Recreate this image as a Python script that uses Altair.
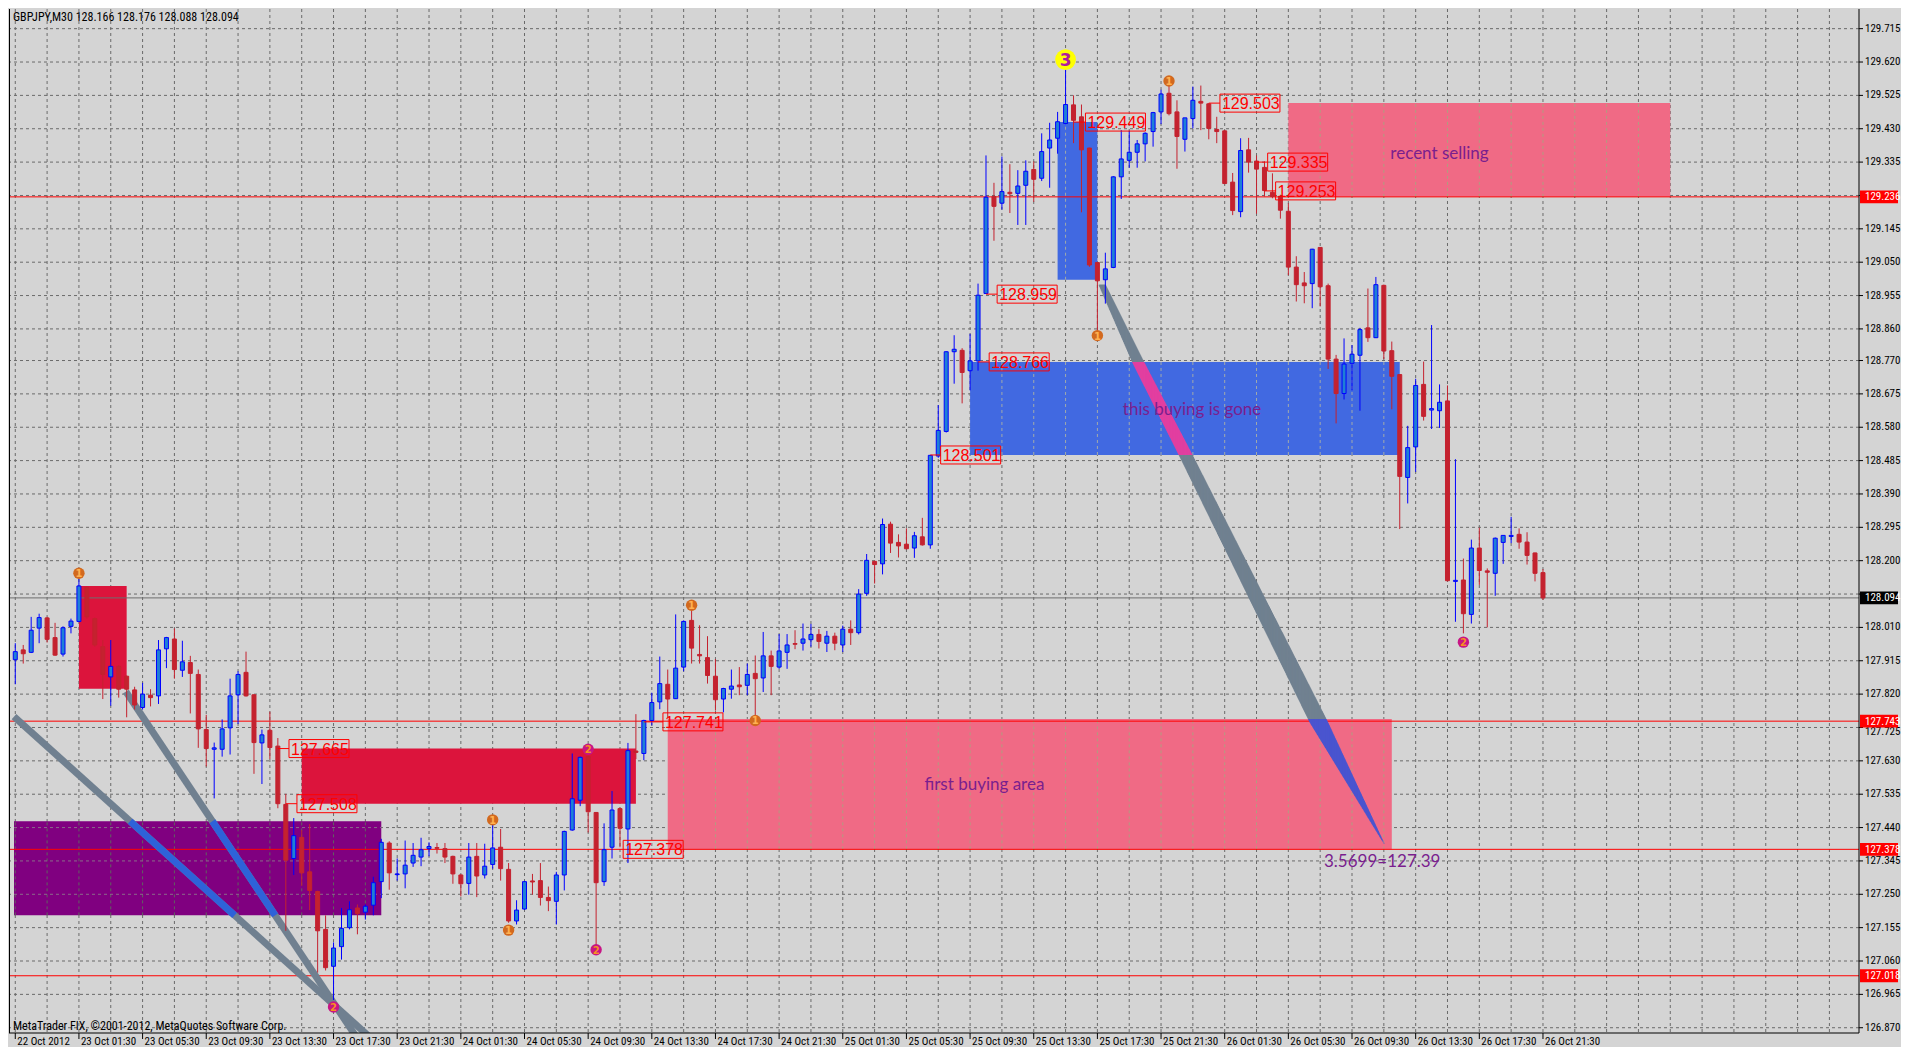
import altair as alt
import numpy as np
import pandas as pd

# ---------------- data ----------------
symbol = "GBPJPY,M30"
last_quote = [128.166, 128.176, 128.088, 128.094]

opens = [127.918, 127.946, 127.939, 128.008, 128.037, 127.981, 127.934, 128.013, 128.027, 128.124,
         128.035, 127.955, 127.869, 127.899, 127.871, 127.832, 127.782, 127.817, 127.815, 127.949,
         127.977, 127.888, 127.910, 127.876, 127.719, 127.663, 127.663, 127.724, 127.818, 127.882,
         127.818, 127.681, 127.717, 127.672, 127.506, 127.352, 127.412, 127.314, 127.258, 127.150,
         127.045, 127.101, 127.155, 127.211, 127.199, 127.219, 127.286, 127.396, 127.306, 127.308,
         127.339, 127.356, 127.380, 127.383, 127.380, 127.358, 127.305, 127.281, 127.358, 127.305,
         127.335, 127.384, 127.321, 127.174, 127.208, 127.288, 127.289, 127.241, 127.230, 127.305,
         127.433, 127.518, 127.642, 127.483, 127.286, 127.384, 127.494, 127.436, 127.658, 127.651,
         127.745, 127.798, 127.848, 127.807, 127.897, 128.030, 127.933, 127.924, 127.871, 127.806,
         127.834, 127.846, 127.845, 127.879, 127.866, 127.929, 127.897, 127.939, 127.964, 127.965,
         127.975, 127.990, 127.965, 127.985, 127.960, 128.005, 127.995, 128.107, 128.198, 128.191,
         128.304, 128.252, 128.247, 128.236, 128.268, 128.245, 128.498, 128.568, 128.795, 128.799,
         128.741, 128.769, 128.961, 129.237, 129.218, 129.249, 129.246, 129.269, 129.314, 129.289,
         129.375, 129.403, 129.445, 129.498, 129.464, 129.375, 129.049, 129.000, 129.035, 129.293,
         129.340, 129.363, 129.387, 129.422, 129.478, 129.531, 129.478, 129.400, 129.459, 129.508,
         129.501, 129.428, 129.424, 129.278, 129.194, 129.370, 129.338, 129.320, 129.249, 129.237,
         129.195, 129.036, 128.991, 128.989, 129.092, 128.983, 128.774, 128.676, 128.762, 128.785,
         128.863, 128.835, 128.984, 128.798, 128.730, 128.437, 128.524, 128.702, 128.629, 128.627,
         128.655, 128.141, 128.145, 128.047, 128.236, 128.171, 128.164, 128.252, 128.269, 128.275,
         128.253, 128.222, 128.166]
highs = [127.965, 127.960, 128.040, 128.049, 128.040, 128.023, 128.013, 128.035, 128.150, 128.126,
         128.038, 127.974, 127.974, 127.902, 127.873, 127.841, 127.852, 127.834, 127.974, 127.983,
         128.007, 127.972, 127.929, 127.890, 127.761, 127.682, 127.748, 127.864, 127.885, 127.941,
         127.820, 127.719, 127.770, 127.695, 127.536, 127.467, 127.433, 127.450, 127.260, 127.190,
         127.113, 127.211, 127.230, 127.221, 127.221, 127.300, 127.408, 127.401, 127.352, 127.403,
         127.396, 127.411, 127.398, 127.396, 127.396, 127.360, 127.307, 127.396, 127.396, 127.394,
         127.450, 127.436, 127.339, 127.233, 127.288, 127.308, 127.339, 127.272, 127.314, 127.431,
         127.651, 127.642, 127.644, 127.484, 127.452, 127.544, 127.497, 127.681, 127.763, 127.747,
         127.824, 127.927, 127.890, 128.047, 128.030, 128.060, 128.016, 127.985, 127.920, 127.838,
         127.890, 127.897, 127.907, 127.930, 127.997, 127.944, 127.991, 127.991, 128.002, 128.021,
         128.020, 128.005, 128.000, 127.995, 128.015, 128.030, 128.119, 128.219, 128.200, 128.320,
         128.311, 128.275, 128.292, 128.282, 128.322, 128.501, 128.643, 128.796, 128.842, 128.805,
         128.846, 128.989, 129.354, 129.276, 129.351, 129.329, 129.312, 129.340, 129.337, 129.417,
         129.447, 129.478, 129.600, 129.525, 129.499, 129.376, 129.050, 129.077, 129.295, 129.426,
         129.424, 129.398, 129.420, 129.478, 129.541, 129.557, 129.511, 129.461, 129.550, 129.553,
         129.503, 129.464, 129.426, 129.304, 129.403, 129.404, 129.354, 129.337, 129.303, 129.242,
         129.218, 129.067, 129.022, 129.088, 129.093, 128.989, 128.786, 128.833, 128.814, 128.863,
         128.975, 129.008, 128.986, 128.824, 128.731, 128.584, 128.718, 128.767, 128.871, 128.702,
         128.699, 128.489, 128.206, 128.260, 128.294, 128.178, 128.266, 128.273, 128.325, 128.292,
         128.281, 128.223, 128.176]
lows = [127.848, 127.907, 127.937, 127.965, 127.967, 127.929, 127.927, 127.993, 128.025, 128.035,
        127.955, 127.806, 127.787, 127.810, 127.754, 127.776, 127.776, 127.785, 127.792, 127.894,
        127.864, 127.869, 127.765, 127.667, 127.614, 127.523, 127.642, 127.648, 127.735, 127.813,
        127.593, 127.564, 127.635, 127.495, 127.146, 127.305, 127.274, 127.205, 127.027, 127.033,
        126.949, 127.064, 127.150, 127.136, 127.178, 127.190, 127.239, 127.263, 127.289, 127.267,
        127.328, 127.330, 127.358, 127.366, 127.339, 127.280, 127.244, 127.249, 127.242, 127.295,
        127.323, 127.289, 127.169, 127.164, 127.206, 127.249, 127.218, 127.202, 127.164, 127.261,
        127.431, 127.501, 127.426, 127.099, 127.274, 127.352, 127.384, 127.339, 127.635, 127.632,
        127.731, 127.777, 127.754, 127.806, 127.885, 127.907, 127.907, 127.850, 127.773, 127.768,
        127.807, 127.817, 127.817, 127.754, 127.826, 127.817, 127.892, 127.892, 127.948, 127.944,
        127.955, 127.950, 127.940, 127.945, 127.940, 127.960, 127.990, 128.100, 128.135, 128.161,
        128.222, 128.209, 128.232, 128.208, 128.243, 128.234, 128.493, 128.565, 128.704, 128.648,
        128.685, 128.741, 128.960, 129.111, 129.200, 129.190, 129.156, 129.156, 129.222, 129.281,
        129.262, 129.359, 129.443, 129.389, 129.192, 129.037, 128.830, 128.932, 129.033, 129.230,
        129.319, 129.319, 129.337, 129.379, 129.443, 129.468, 129.316, 129.365, 129.431, 129.426,
        129.400, 129.389, 129.272, 129.184, 129.178, 129.305, 129.188, 129.237, 129.232, 129.174,
        129.013, 128.938, 128.933, 128.919, 128.924, 128.746, 128.591, 128.659, 128.685, 128.627,
        128.823, 128.834, 128.774, 128.631, 128.290, 128.363, 128.453, 128.599, 128.575, 128.578,
        128.141, 128.026, 127.993, 128.021, 128.131, 128.010, 128.100, 128.191, 128.250, 128.234,
        128.189, 128.141, 128.088]
closes = [127.941, 127.935, 128.002, 128.038, 127.976, 127.931, 128.009, 128.028, 128.128, 128.040,
          127.960, 127.876, 127.899, 127.834, 127.834, 127.789, 127.820, 127.810, 127.946, 127.981,
          127.890, 127.912, 127.879, 127.721, 127.665, 127.667, 127.721, 127.815, 127.876, 127.815,
          127.682, 127.704, 127.668, 127.508, 127.347, 127.417, 127.311, 127.261, 127.146, 127.041,
          127.097, 127.153, 127.206, 127.195, 127.216, 127.283, 127.398, 127.311, 127.308, 127.333,
          127.361, 127.377, 127.386, 127.381, 127.356, 127.308, 127.280, 127.356, 127.302, 127.330,
          127.382, 127.323, 127.174, 127.205, 127.286, 127.285, 127.241, 127.232, 127.305, 127.429,
          127.522, 127.640, 127.485, 127.283, 127.377, 127.490, 127.438, 127.659, 127.654, 127.745,
          127.796, 127.850, 127.806, 127.894, 128.027, 127.951, 127.929, 127.873, 127.804, 127.836,
          127.843, 127.841, 127.876, 127.864, 127.929, 127.899, 127.943, 127.960, 127.962, 127.977,
          127.990, 127.970, 127.985, 127.965, 128.005, 127.995, 128.105, 128.201, 128.189, 128.303,
          128.250, 128.242, 128.234, 128.271, 128.245, 128.500, 128.571, 128.795, 128.802, 128.736,
          128.769, 128.956, 129.235, 129.209, 129.251, 129.245, 129.267, 129.309, 129.286, 129.365,
          129.398, 129.450, 129.499, 129.454, 129.370, 129.042, 128.997, 129.031, 129.293, 129.344,
          129.363, 129.387, 129.417, 129.476, 129.529, 129.473, 129.408, 129.461, 129.511, 129.503,
          129.431, 129.422, 129.274, 129.197, 129.368, 129.335, 129.315, 129.254, 129.237, 129.198,
          129.036, 128.986, 128.983, 129.087, 128.980, 128.774, 128.676, 128.760, 128.788, 128.858,
          128.835, 128.986, 128.797, 128.725, 128.440, 128.522, 128.699, 128.611, 128.633, 128.651,
          128.143, 128.144, 128.049, 128.236, 128.172, 128.167, 128.264, 128.272, 128.272, 128.253,
          128.215, 128.164, 128.094]

time_labels = ["22 Oct 2012",
               "23 Oct 01:30", "23 Oct 05:30", "23 Oct 09:30", "23 Oct 13:30", "23 Oct 17:30", "23 Oct 21:30",
               "24 Oct 01:30", "24 Oct 05:30", "24 Oct 09:30", "24 Oct 13:30", "24 Oct 17:30", "24 Oct 21:30",
               "25 Oct 01:30", "25 Oct 05:30", "25 Oct 09:30", "25 Oct 13:30", "25 Oct 17:30", "25 Oct 21:30",
               "26 Oct 01:30", "26 Oct 05:30", "26 Oct 09:30", "26 Oct 13:30", "26 Oct 17:30", "26 Oct 21:30"]
bars_per_label = 8
bars_per_grid = 4

price_ticks = [129.715, 129.620, 129.525, 129.430, 129.335, 129.240, 129.145, 129.050, 128.955,
               128.860, 128.770, 128.675, 128.580, 128.485, 128.390, 128.295, 128.200, 128.105,
               128.010, 127.915, 127.820, 127.725, 127.630, 127.535, 127.440, 127.345, 127.250,
               127.155, 127.060, 126.965, 126.870]

# drawn zones: start bar, end bar, low price, high price, kind
zone_x0 = [-0.16, 8, 36, 82, 120, 131, 160]
zone_x1 = [46, 14, 78, 173, 174, 136, 208]
zone_lo = [127.190, 127.835, 127.508, 127.378, 128.501, 129.000, 129.236]
zone_hi = [127.458, 128.128, 127.665, 127.749, 128.766, 129.449, 129.503]
zone_kind = ["purple", "crimson", "crimson", "pink", "blue", "blue", "pink"]

zone_texts = ["first buying area", "this buying is gone", "recent selling", "3.5699=127.39"]
zone_text_bar = [121.8, 147.9, 179.0, 171.8]
zone_text_price = [127.560, 128.628, 129.359, 127.341]

hline_prices = [129.236, 127.743, 127.378, 127.018, 128.094]
hline_kind = ["red", "red", "red", "red", "bid"]

# price-label objects: text, candle bar, box bar, price
plabel_text = ["127.665", "127.508", "127.741", "127.378", "128.501", "128.766", "128.959",
               "129.449", "129.503", "129.335", "129.253"]
plabel_from = [33, 34, 79, 76.4, 115, 121, 122, 133, 150, 156, 157]
plabel_box = [34.4, 35.4, 81.4, 76.4, 116.3, 122.4, 123.4, 134.5, 151.4, 157.4, 158.4]
plabel_price = [127.665, 127.508, 127.741, 127.378, 128.501, 128.766, 128.959,
                129.449, 129.503, 129.335, 129.253]

# numbered wave markers
mark_bar = [8, 60, 62, 40, 72, 73, 85, 93, 132, 136, 145, 182]
mark_price = [128.164, 127.462, 127.148, 126.929, 127.663, 127.092, 128.073, 127.745,
              129.627, 128.841, 129.566, 127.968]
mark_label = ["1", "1", "1", "2", "2", "2", "1", "1", "3", "1", "1", "2"]

# trend lines (bar, price)
lineA_bar = [-0.16, 45]
lineA_price = [127.756, 126.834]
lineB_bar = [13.9, 45]
lineB_price = [127.827, 126.771]

# wedge line: price, left edge bar, right edge bar
wedge_price = [128.986, 128.764, 128.492, 127.740, 127.392]
wedge_left = [136.18, 140.43, 146.46, 162.70, 172.09]
wedge_right = [137.00, 141.88, 148.13, 164.95, 172.09]

# ---------------- layout / style ----------------
W, H = 1850, 1024
PX_PER_BAR = 8.0
XDOM = [-0.16, -0.16 + W / PX_PER_BAR]
YDOM = [126.855, 129.771]
BG = "#D4D4D4"
GRID = "#6A6A6A"
AXFONT = "Liberation Sans Narrow, Roboto Condensed, DejaVu Sans Condensed, Arial Narrow, sans-serif"
UP_FILL, UP_LINE = "#1E7FD6", "#0000FF"
DN_FILL = "#C4222F"
SLATE = "#708090"

zone_colors = {"purple": "#800080", "crimson": "#DC143C", "pink": "#F06A85", "blue": "#4169E1"}
zone_grid_colors = {"purple": "#46B446", "pink": "#7CC87C", "blue": "#F0E080"}

xs = alt.Scale(domain=XDOM, nice=False, zero=False)
ys = alt.Scale(domain=YDOM, nice=False, zero=False)


def X(field):
    return alt.X(field, scale=xs, axis=None)


def Y(field):
    return alt.Y(field, scale=ys, axis=None)


n = len(opens)
cdf = pd.DataFrame({"bar": np.arange(n), "open": opens, "high": highs, "low": lows, "close": closes})
cdf["dir"] = np.where(cdf["close"] >= cdf["open"], "up", "down")

# ---- grid & axes drawn as marks ----
grid_bars = list(range(0, int(XDOM[1]) + 1, bars_per_grid))
vgrid = alt.Chart(pd.DataFrame({"bar": grid_bars})).mark_rule(
    color=GRID, strokeDash=[3, 3], strokeWidth=1).encode(x=X("bar:Q"))
hgrid = alt.Chart(pd.DataFrame({"price": price_ticks})).mark_rule(
    color=GRID, strokeDash=[3, 3], strokeWidth=1).encode(y=Y("price:Q"))

# labels that sit right under a price tag are hidden (as in the terminal); near ones are nudged down
tag_gap = 0.016
shown = [p for p in price_ticks if min(abs(p - h) for h in hline_prices) > tag_gap]
nudged = [p for p in shown if any(0 < h - p < 0.03 for h in hline_prices)]
plain = [p for p in shown if p not in nudged]
yticks = alt.Chart(pd.DataFrame({"price": price_ticks})).mark_rule(color="black", strokeWidth=1).encode(
    y=Y("price:Q"), x=alt.value(W), x2=alt.value(W + 4))
ylab_layers = []
for vals, dy in [(plain, 0), (nudged, 5)]:
    ylab_layers.append(alt.Chart(pd.DataFrame({"price": vals, "txt": [f"{v:.3f}" for v in vals]})).mark_text(
        align="left", baseline="middle", font=AXFONT, fontSize=11, color="black", dy=dy).encode(
        y=Y("price:Q"), x=alt.value(W + 6), text="txt:N"))

xlab_df = pd.DataFrame({"bar": [i * bars_per_label for i in range(len(time_labels))], "txt": time_labels})
xticks = alt.Chart(xlab_df).mark_rule(color="black", strokeWidth=1).encode(
    x=X("bar:Q"), y=alt.value(H), y2=alt.value(H + 6))
xlabels = alt.Chart(xlab_df).mark_text(align="left", baseline="middle", font=AXFONT, fontSize=11,
                                       color="black", dx=2).encode(
    x=X("bar:Q"), y=alt.value(H + 9), text="txt:N")

frame_df = pd.DataFrame({"side": ["left", "right", "bottom"]})
frame_left = alt.Chart(frame_df.iloc[[0]]).mark_rule(color="black", strokeWidth=1).encode(
    x=alt.value(0.5), y=alt.value(0), y2=alt.value(H))
frame_right = alt.Chart(frame_df.iloc[[1]]).mark_rule(color="black", strokeWidth=1).encode(
    x=alt.value(W), y=alt.value(0), y2=alt.value(H))
frame_bottom = alt.Chart(frame_df.iloc[[2]]).mark_rule(color="black", strokeWidth=1).encode(
    x=alt.value(0), x2=alt.value(W), y=alt.value(H))

# ---- zones ----
zdf = pd.DataFrame({"x0": zone_x0, "x1": zone_x1, "lo": zone_lo, "hi": zone_hi,
                    "fill": [zone_colors[k] for k in zone_kind]})
zones = alt.Chart(zdf).mark_rect(clip=True).encode(
    x=X("x0:Q"), x2="x1:Q", y=Y("lo:Q"), y2="hi:Q", fill=alt.Fill("fill:N", scale=None))

zg_rows = []
for x0, x1, lo, hi, k in zip(zone_x0, zone_x1, zone_lo, zone_hi, zone_kind):
    if k in zone_grid_colors:
        for b in grid_bars:
            if x0 < b < x1:
                zg_rows.append({"bar": b, "lo": lo, "hi": hi, "col": zone_grid_colors[k]})
zgrid = alt.Chart(pd.DataFrame(zg_rows)).mark_rule(
    strokeDash=[3, 3], strokeWidth=1, opacity=0.55, clip=True).encode(
    x=X("bar:Q"), y=Y("lo:Q"), y2="hi:Q", color=alt.Color("col:N", scale=None))

pz_rows = [{"price": p, "x0": zone_x0[0], "x1": zone_x1[0]} for p in price_ticks
           if zone_lo[0] < p < zone_hi[0]]
pzgrid = alt.Chart(pd.DataFrame(pz_rows)).mark_rule(
    color="#8A6A8A", strokeDash=[3, 3], strokeWidth=1, clip=True).encode(
    y=Y("price:Q"), x=X("x0:Q"), x2="x1:Q")

# ---- horizontal lines ----
hdf = pd.DataFrame({"price": hline_prices,
                    "col": ["#FF0000" if k == "red" else "#6E6E6E" for k in hline_kind]})
hlines = alt.Chart(hdf).mark_rule(strokeWidth=1).encode(
    y=Y("price:Q"), color=alt.Color("col:N", scale=None))

# ---- trend lines, blue where they cross the purple zone ----
purple_lo, purple_hi = zone_lo[0], zone_hi[0]
trows = []
for name, bars, prices in [("A", lineA_bar, lineA_price), ("B", lineB_bar, lineB_price)]:
    trows.append({"seg": name, "ord": 0, "bar": bars[0], "price": prices[0], "col": SLATE})
    trows.append({"seg": name, "ord": 1, "bar": bars[1], "price": prices[1], "col": SLATE})
    for i, p in enumerate([purple_hi, purple_lo]):
        trows.append({"seg": name + "p", "ord": i, "bar": float(np.interp(p, prices[::-1], bars[::-1])),
                      "price": p, "col": "#2E62D9"})
tlines = alt.Chart(pd.DataFrame(trows)).mark_line(strokeWidth=7, clip=True).encode(
    x=X("bar:Q"), y=Y("price:Q"), detail="seg:N", order="ord:Q", color=alt.Color("col:N", scale=None))

# ---- wedge: filled with dense vertical strokes between its two edges ----
blue_lo, blue_hi = zone_lo[4], zone_hi[4]
pink_lo, pink_hi = zone_lo[3], zone_hi[3]
bands = [(blue_hi, np.inf, SLATE), (blue_lo, blue_hi, "#E23FA0"),
         (pink_hi, blue_lo, SLATE), (-np.inf, pink_hi, "#4A55CF")]
bgrid = np.arange(wedge_left[0], wedge_left[-1] + 1e-9, 0.0625)
lower_edge = np.interp(bgrid, wedge_left, wedge_price)
upper_edge = np.where(bgrid <= wedge_right[0], wedge_price[0], np.interp(bgrid, wedge_right, wedge_price))
wrows = []
for lo, hi, col in bands:
    lo_v = np.maximum(lower_edge, lo)
    hi_v = np.minimum(upper_edge, hi)
    ok = hi_v > lo_v
    for b, l, h in zip(bgrid[ok], lo_v[ok], hi_v[ok]):
        wrows.append({"bar": float(b), "lo": float(l), "hi": float(h), "col": col})
wedge = alt.Chart(pd.DataFrame(wrows)).mark_rule(strokeWidth=1.2, clip=True).encode(
    x=X("bar:Q"), y=Y("lo:Q"), y2="hi:Q", color=alt.Color("col:N", scale=None))

# ---- candles ----
dir_scale_line = alt.Scale(domain=["up", "down"], range=[UP_LINE, DN_FILL])
dir_scale_fill = alt.Scale(domain=["up", "down"], range=[UP_FILL, DN_FILL])
wicks = alt.Chart(cdf).mark_rule(strokeWidth=1).encode(
    x=X("bar:Q"), y=Y("low:Q"), y2="high:Q",
    color=alt.Color("dir:N", scale=dir_scale_line, legend=None))
bodies = alt.Chart(cdf).mark_bar(size=4, strokeWidth=1).encode(
    x=X("bar:Q"), y=Y("open:Q"), y2="close:Q",
    fill=alt.Fill("dir:N", scale=dir_scale_fill, legend=None),
    stroke=alt.Stroke("dir:N", scale=dir_scale_line, legend=None))

# ---- price-label objects ----
pdf = pd.DataFrame({"text": plabel_text, "from": plabel_from, "box": plabel_box, "price": plabel_price})
conns = alt.Chart(pdf).mark_rule(color="#FF0000", strokeWidth=1).encode(
    x=X("from:Q"), x2="box:Q", y=Y("price:Q"))
boxes = alt.Chart(pdf).mark_point(shape="M-1,-0.3L1,-0.3L1,0.3L-1,0.3Z", size=3600, filled=False,
                                  color="#FF0000", strokeWidth=1, opacity=1, xOffset=30).encode(
    x=X("box:Q"), y=Y("price:Q"))
btexts = alt.Chart(pdf).mark_text(align="left", baseline="middle", dx=2, dy=1, fontSize=16,
                                  font="Liberation Sans", color="#FF0000").encode(
    x=X("box:Q"), y=Y("price:Q"), text="text:N")

# ---- wave markers ----
mk_fill = {"1": "#D2691E", "2": "#C71585", "3": "#FFFF00"}
mk_text = {"1": "#FFB050", "2": "#F59020", "3": "#B01C9C"}
mk_size = {"1": 130, "2": 130, "3": 430}
mdf = pd.DataFrame({"bar": mark_bar, "price": mark_price, "label": mark_label})
mdf["fill"] = mdf["label"].map(mk_fill)
mdf["tcol"] = mdf["label"].map(mk_text)
mdf["size"] = mdf["label"].map(mk_size)
mdf["fs"] = np.where(mdf["label"] == "3", 17, 10)
mcirc = alt.Chart(mdf).mark_circle(opacity=1).encode(
    x=X("bar:Q"), y=Y("price:Q"), color=alt.Color("fill:N", scale=None), size=alt.Size("size:Q", scale=None))
mtext = alt.Chart(mdf).mark_text(baseline="middle", align="center", fontWeight="bold",
                                 font="DejaVu Sans", dy=1).encode(
    x=X("bar:Q"), y=Y("price:Q"), text="label:N",
    color=alt.Color("tcol:N", scale=None), size=alt.Size("fs:Q", scale=None))

# ---- zone texts ----
ztdf = pd.DataFrame({"text": zone_texts, "bar": zone_text_bar, "price": zone_text_price})
ztext = alt.Chart(ztdf).mark_text(fontSize=17, font="Lato", color="#7A1E8E", baseline="middle").encode(
    x=X("bar:Q"), y=Y("price:Q"), text="text:N")

# ---- right-side price tags ----
tagdf = pd.DataFrame({"price": hline_prices,
                      "bg": ["#FF0000" if k == "red" else "#000000" for k in hline_kind]})
tagdf["text"] = tagdf["price"].map(lambda v: f"{v:.3f}")
tags = alt.Chart(tagdf).mark_point(shape="M-1,-0.34L1,-0.34L1,0.34L-1,0.34Z", size=38 * 38,
                                   filled=True, opacity=1).encode(
    x=alt.value(W + 20), y=Y("price:Q"), color=alt.Color("bg:N", scale=None))
tagtext = alt.Chart(tagdf).mark_text(align="left", baseline="middle", font=AXFONT, fontSize=11,
                                     color="white", dy=0.5).encode(
    x=alt.value(W + 6), y=Y("price:Q"), text="text:N")

# ---- header & footer ----
header_txt = symbol + "  " + " ".join(f"{v:.3f}" for v in last_quote)
hf = pd.DataFrame({"t": [header_txt, "MetaTrader FIX, \u00a92001-2012, MetaQuotes Software Corp."],
                   "py": [8, H - 7]})
hftext = alt.Chart(hf).mark_text(align="left", baseline="middle", font=AXFONT, fontSize=12,
                                 color="black").encode(
    x=alt.value(4), y=alt.Y("py:Q", scale=None, axis=None), text="t:N")

chart = alt.layer(
    vgrid, hgrid, zones, zgrid, pzgrid, hlines, tlines, wedge, wicks, bodies, conns, boxes,
    btexts, mcirc, mtext, ztext, frame_left, frame_right, frame_bottom, yticks, *ylab_layers, xticks,
    xlabels, tags, tagtext, hftext
).properties(
    width=W, height=H, background=BG,
    padding={"left": 0, "top": 0, "right": 0, "bottom": 0}
).configure_view(stroke=None)

chart.save("out.html", embed_options={"renderer": "svg", "actions": False})
